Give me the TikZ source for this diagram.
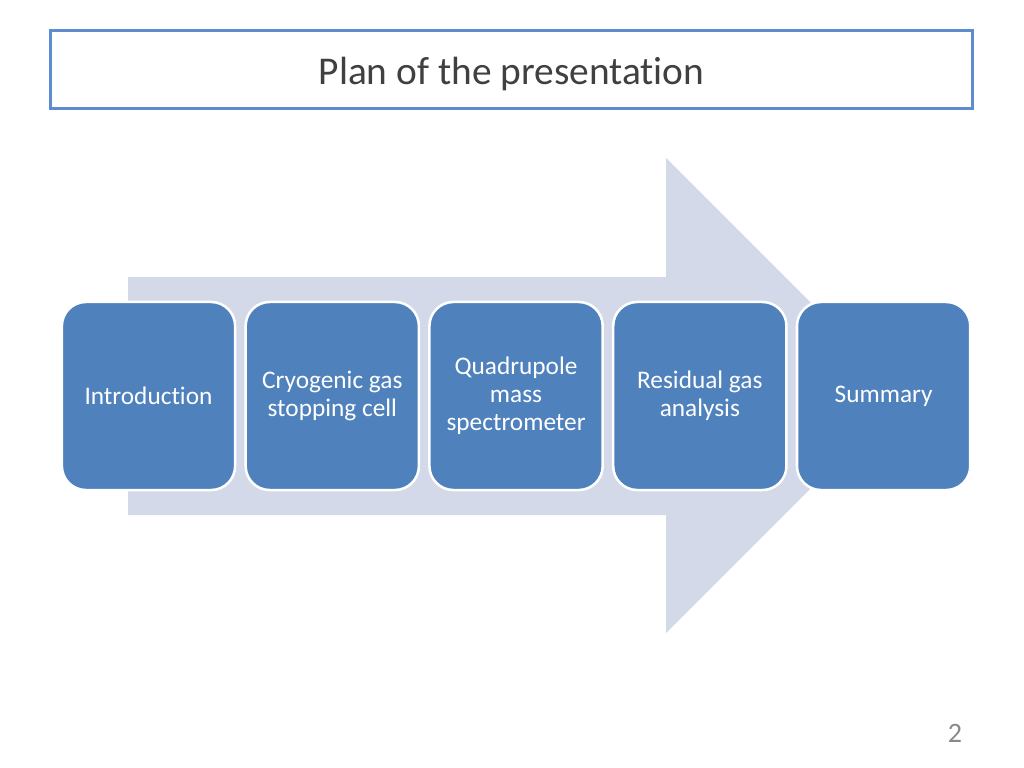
\documentclass[tikz,border=0pt]{standalone}
\usepackage{fontspec}
\setmainfont{Carlito}[Ligatures=NoCommon]
\usetikzlibrary{positioning}
\definecolor{blue1}{RGB}{79,129,189}
\definecolor{frame1}{RGB}{93,140,208}
\definecolor{arrow1}{RGB}{211,217,232}
\definecolor{grey1}{RGB}{64,64,64}
\definecolor{grey2}{RGB}{137,137,137}

\begin{document}
\begin{tikzpicture}[x=0.025cm, y=-0.025cm,
    titlebox/.style={draw=frame1, fill=white, line width=2pt, minimum width=23.05cm, minimum height=1.95cm, text height=21pt, text depth=0pt, text=grey1, font=\fontsize{28}{34}\selectfont},
    stage/.style={draw=white, fill=blue1, line width=1.8pt, rounded corners=0.6cm, minimum width=4.33cm, minimum height=4.7cm, align=center, text=white, font=\fontsize{18}{20}\selectfont},
    pagenum/.style={text=grey2, font=\fontsize{20}{24}\selectfont}
]
        \useasboundingbox (0,0) rectangle (1024,768);

        \node[titlebox, name=title] at(511.5,69.5) {Plan of the presentation};

        % big background arrow
        \fill[arrow1] (128,277) -- (666,277) -- (666,158) -- (903.5,395.5) -- (666,633) -- (666,515) -- (128,515) -- cycle;

        \node[stage, name=intro] at(148.5,396) {Introduction};
        \node[stage, name=cell, right=0.2cm of intro] {Cryogenic gas\\stopping cell};
        \node[stage, name=qms, right=0.2cm of cell] {Quadrupole\\mass\\spectrometer};
        \node[stage, name=rga, right=0.2cm of qms] {Residual gas\\analysis};
        \node[stage, name=summary, right=0.2cm of rga] {Summary};

        \node[pagenum, name=page] at(955,733) {2};
    \end{tikzpicture}
\end{document}
